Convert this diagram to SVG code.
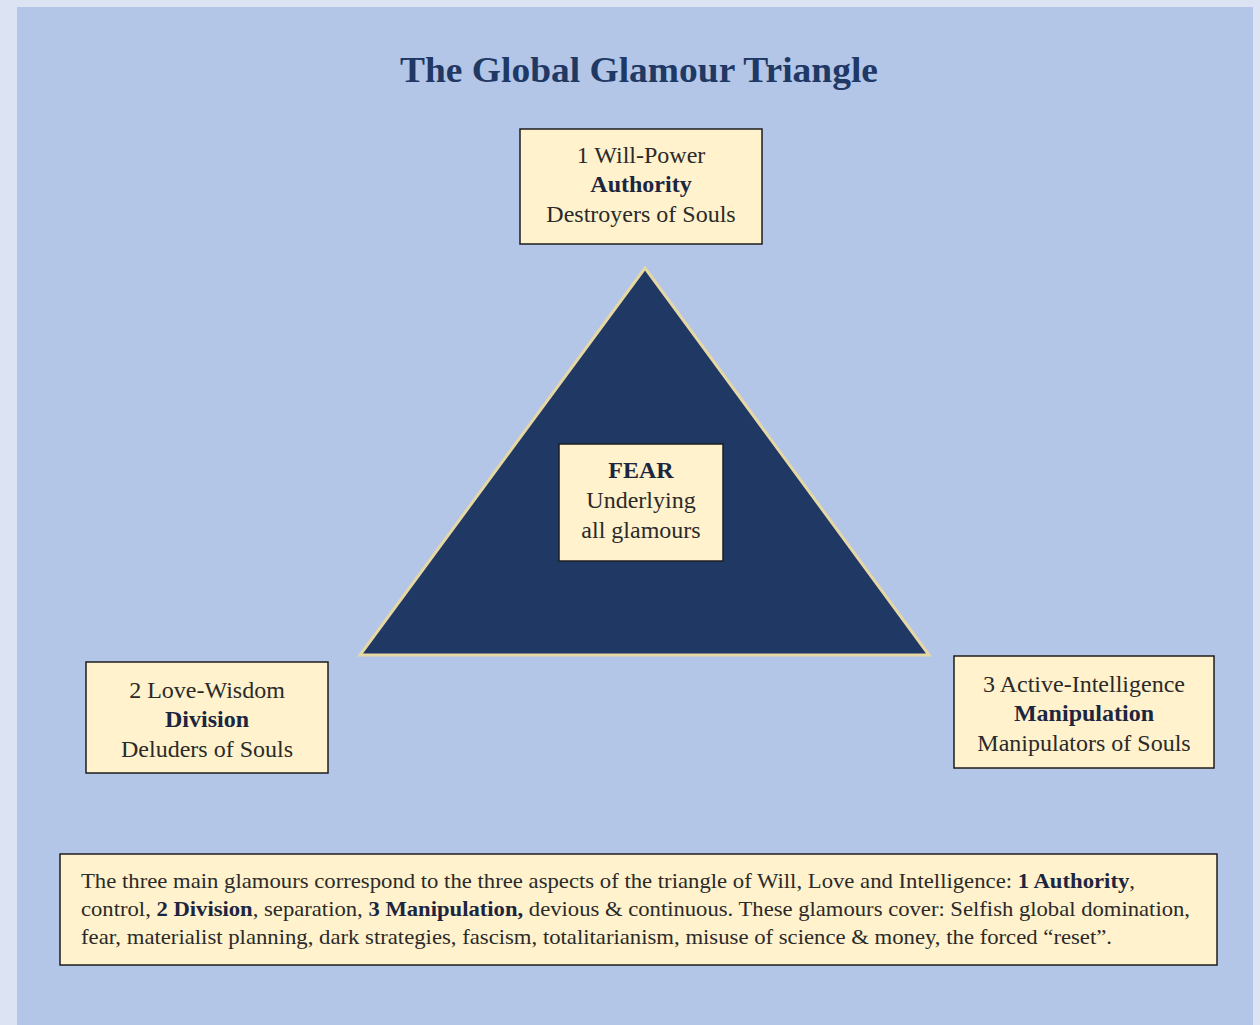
<svg xmlns="http://www.w3.org/2000/svg" width="1260" height="1025" viewBox="0 0 1260 1025">
  <style>
    .serif { font-family: "Liberation Serif", "Times New Roman", Tinos, "DejaVu Serif", serif; }
    .box { fill: #fff2cc; stroke: #1e1e1e; stroke-width: 1.5; }
    .t { font-size: 24px; fill: #2a2a2a; text-anchor: middle; }
    .b { font-weight: bold; fill: #1c2640; }
    .p { font-size: 21px; fill: #2a2a2a; }
  </style>

  <!-- page background and panel -->
  <rect x="0" y="0" width="1260" height="1025" fill="#dce4f3"/>
  <rect x="17" y="7" width="1236" height="1018" fill="#b3c6e7"/>

  <!-- title -->
  <text id="title" class="serif" x="639" y="82" font-size="36" font-weight="bold" fill="#1f3864" text-anchor="middle" textLength="478" lengthAdjust="spacingAndGlyphs">The Global Glamour Triangle</text>

  <!-- central triangle -->
  <g id="triangle">
    <polygon points="645,268 360,655 929,655" fill="#203864" stroke="#e6d8a4" stroke-width="3" stroke-linejoin="miter"/>
  </g>

  <g id="connectors"></g>

  <g id="node-will" class="serif">
    <rect class="box" x="520" y="129" width="242" height="115"/>
    <text class="t" x="641" y="163">1 Will-Power</text>
    <text class="t b" x="641" y="192">Authority</text>
    <text class="t" x="641" y="222">Destroyers of Souls</text>
  </g>

  <g id="node-fear" class="serif">
    <rect class="box" x="559" y="444" width="164" height="117"/>
    <text class="t b" x="641" y="478">FEAR</text>
    <text class="t" x="641" y="508">Underlying</text>
    <text class="t" x="641" y="538">all glamours</text>
  </g>

  <g id="node-love" class="serif">
    <rect class="box" x="86" y="662" width="242" height="111"/>
    <text class="t" x="207" y="698">2 Love-Wisdom</text>
    <text class="t b" x="207" y="727">Division</text>
    <text class="t" x="207" y="757">Deluders of Souls</text>
  </g>

  <g id="node-intelligence" class="serif">
    <rect class="box" x="954" y="656" width="260" height="112"/>
    <text class="t" x="1084" y="692">3 Active-Intelligence</text>
    <text class="t b" x="1084" y="721">Manipulation</text>
    <text class="t" x="1084" y="751">Manipulators of Souls</text>
  </g>

  <g id="note" class="serif">
    <rect class="box" x="60" y="854" width="1157" height="111"/>
    <text class="p" x="81" y="888" textLength="1054" lengthAdjust="spacingAndGlyphs">The three main glamours correspond to the three aspects of the triangle of Will, Love and Intelligence: <tspan class="b">1 Authority</tspan>,</text>
    <text class="p" x="81" y="916" textLength="1109" lengthAdjust="spacingAndGlyphs">control, <tspan class="b">2 Division</tspan>, separation, <tspan class="b">3 Manipulation,</tspan> devious &amp; continuous. These glamours cover: Selfish global domination,</text>
    <text class="p" x="81" y="944" textLength="1031" lengthAdjust="spacingAndGlyphs">fear, materialist planning, dark strategies, fascism, totalitarianism, misuse of science &amp; money, the forced “reset”.</text>
  </g>
</svg>
